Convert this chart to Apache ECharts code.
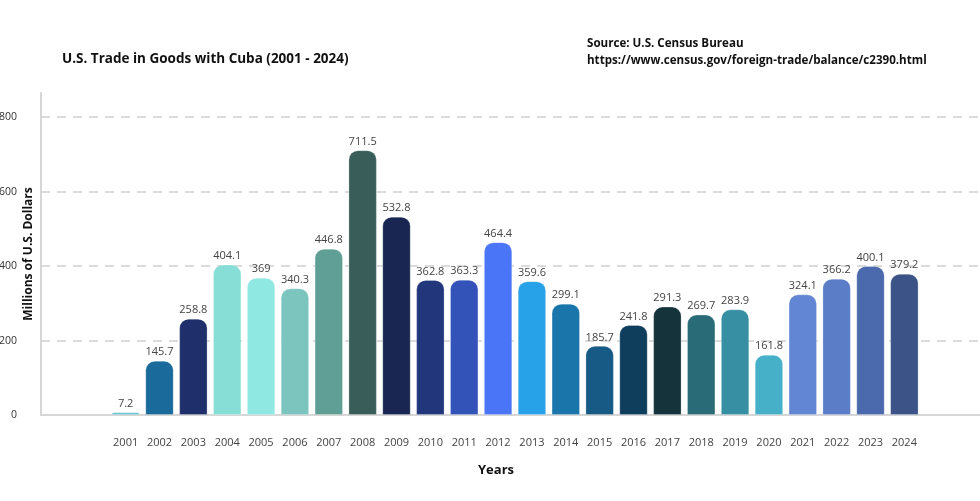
<!DOCTYPE html>
<html>
<head>
<meta charset="utf-8">
<script src="https://cdn.jsdelivr.net/npm/echarts@6/dist/echarts.min.js"></script>
<style>html,body{margin:0;padding:0;background:#fff}#c{width:980px;height:501px}</style>
</head>
<body>
<div id="c"></div>
<script>
var years = ['2001','2002','2003','2004','2005','2006','2007','2008','2009','2010','2011','2012','2013','2014','2015','2016','2017','2018','2019','2020','2021','2022','2023','2024'];
var values = [7.2,145.7,258.8,404.1,369,340.3,446.8,711.5,532.8,362.8,363.3,464.4,359.6,299.1,185.7,241.8,291.3,269.7,283.9,161.8,324.1,366.2,400.1,379.2];
var colors = ['#5fbfd0','#1a6b9b','#1f2f6c','#86ded6','#8fe9e2','#7cc5be','#5f9f96','#395e59','#182651','#22377b','#3453b9','#4a75f7','#27a1e7','#1a76aa','#165a85','#0f3e5d','#15333a','#2a6b78','#368fa2','#46b0c9','#6285d4','#5b7dc7','#4b69ad','#3c5387'];
var yTicks = [0,200,400,600,800];

var pad = 2;
var cats = [];
for (var i = 0; i < pad; i++) cats.push('');
years.forEach(function(y){cats.push(y);});
for (var i = 0; i < pad; i++) cats.push('');
var data = [];
for (var i = 0; i < pad; i++) data.push(null);
values.forEach(function(v, i){
  data.push({value: v, itemStyle: {color: colors[i]}});
});
for (var i = 0; i < pad; i++) data.push(null);

var FONT = '"Open Sans", "Noto Sans", sans-serif';
var chart = echarts.init(document.getElementById('c'));
chart.setOption({
  animation: false,
  textStyle: {fontFamily: FONT},
  title: [
    {text: 'U.S. Trade in Goods with Cuba (2001 - 2024)', left: 62, top: 52, padding: 0,
     textStyle: {fontSize: 13.5, fontWeight: 'bold', color: '#111', fontFamily: FONT}},
    {text: 'Source: U.S. Census Bureau\nhttps://www.census.gov/foreign-trade/balance/c2390.html', left: 587, top: 35, padding: 0,
     textStyle: {fontSize: 11.6, fontWeight: 'bold', color: '#111', lineHeight: 17, fontFamily: FONT}},
    {text: 'Years', left: 478, top: 464, padding: 0,
     textStyle: {fontSize: 13, fontWeight: 'bold', color: '#111', fontFamily: FONT}}
  ],
  grid: {left: 41, right: -9, top: 93, bottom: 86, containLabel: false, outerBoundsMode: 'none'},
  xAxis: {
    type: 'category',
    data: cats,
    axisLine: {show: true, lineStyle: {color: '#d6d6d6', width: 2}},
    axisTick: {show: false},
    axisLabel: {color: '#444', fontSize: 11, margin: 22, interval: 0},
    splitLine: {show: false}
  },
  yAxis: {
    type: 'value',
    min: 0, max: 865, interval: 200,
    name: 'Millions of U.S. Dollars',
    nameLocation: 'middle',
    nameGap: 6,
    nameMoveOverlap: false,
    nameTextStyle: {fontSize: 12, fontWeight: 'bold', color: '#111'},
    axisLine: {show: true, lineStyle: {color: '#d6d6d6', width: 2}},
    axisTick: {show: false},
    axisLabel: {show: true, color: '#333', fontSize: 10.5, margin: 24, showMaxLabel: false,
      formatter: function(v){ return yTicks.indexOf(v) >= 0 ? String(v) : ''; }},
    splitLine: {show: true, showMinLine: false, showMaxLine: false,
      lineStyle: {color: '#cfcfcf', type: [9, 7], width: 1.5}}
  },
  series: [{
    type: 'bar',
    data: data,
    barCategoryGap: '16%',
    itemStyle: {borderRadius: [9, 9, 0, 0], borderColor: 'rgba(255,255,255,0.25)', borderWidth: 1},
    label: {show: true, position: 'top', distance: 3, color: '#444', fontSize: 11}
  }]
});
</script>
</body>
</html>
